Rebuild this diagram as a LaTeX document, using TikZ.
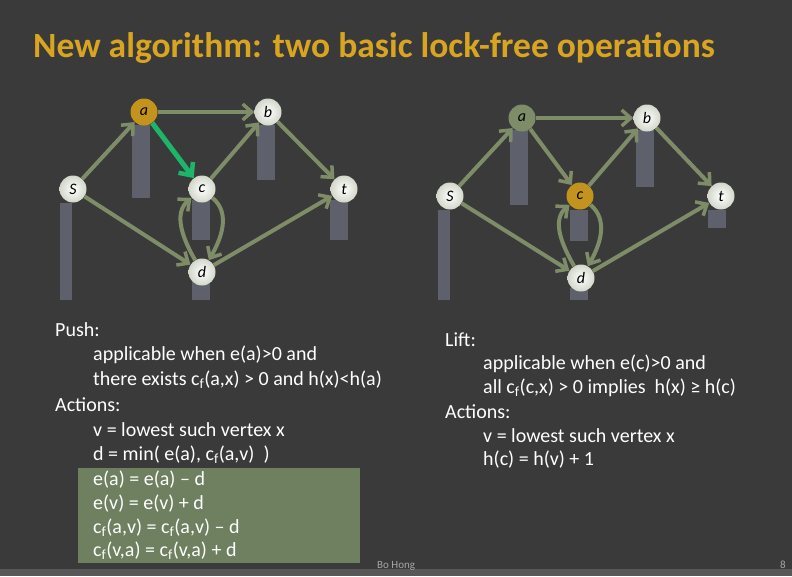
\documentclass[tikz,border=0pt]{standalone}
\usepackage{fontspec}
\setmainfont{Carlito}
\usetikzlibrary{arrows.meta}
\definecolor{bg}{HTML}{3A3A3A}
\definecolor{edge}{HTML}{7F8C68}
\definecolor{bar}{HTML}{5E616B}
\definecolor{gold}{HTML}{D9A520}
\definecolor{hl}{HTML}{6F8060}
\definecolor{pushg}{HTML}{1DB56A}
\tikzset{x=1pt,y=-1pt,
 vert/.style={circle,minimum size=27pt,inner sep=0pt,inner color=white,outer color=edge!35!white,font=\itshape\fontsize{16}{16}\selectfont,text=black},
 active/.style={circle,minimum size=27pt,inner sep=0pt,fill=gold!90!black,font=\itshape\fontsize{16}{16}\selectfont,text=black},
 plain/.style={circle,minimum size=27pt,inner sep=0pt,fill=edge,font=\itshape\fontsize{16}{16}\selectfont,text=black},
 e/.style={draw=edge,line width=4pt,-{Straight Barb[length=9pt,width=16pt,line width=3.5pt]}},
 hbar/.style={fill=bar,draw=none},
 txt/.style={anchor=west,text=white,font=\fontsize{20}{20}\selectfont,inner sep=0pt}}
\begin{document}
\begin{tikzpicture}
\fill[bg] (0,0) rectangle (792,576);
\fill[bg!85!white] (0,569) rectangle (792,576);
\node[anchor=base west,inner sep=0pt,text=gold,font=\bfseries\fontsize{35.5}{35.5}\selectfont] (title) at (33,57) {New algorithm: two basic lock-free operations};
% left graph bars
\fill[hbar] (132,125) rectangle (150,198);
\fill[hbar] (257,125) rectangle (275,180);
\fill[hbar] (192,200) rectangle (210,240);
\fill[hbar] (330,200) rectangle (348,240);
\fill[hbar] (60,203) rectangle (72,300);
\fill[hbar] (192,282) rectangle (210,300);
\node[vert] (S) at (73,189) {S};
\node[active] (a) at (144,112) {a};
\node[vert] (b) at (268,112) {b};
\node[vert] (c) at (202,189) {c};
\node[vert] (t) at (344,189) {t};
\node[vert] (d) at (202,272) {d};
\draw[e] (S) -- (a);
\draw[e] (a) -- (b);
\draw[e] (c) -- (b);
\draw[e] (b) -- (t);
\draw[e] (S) -- (d);
\draw[e] (d) -- (t);
\draw[e] (d) to[out=120,in=-140] (c);
\draw[e] (c) to[out=-40,in=60] (d);
\draw[draw=pushg,line width=5pt,-{Straight Barb[length=10pt,width=18pt,line width=4.5pt]}] (a) -- (c);
% right graph bars
\fill[hbar] (510,130) rectangle (528,205);
\fill[hbar] (636,130) rectangle (654,187);
\fill[hbar] (570,210) rectangle (588,241);
\fill[hbar] (708,210) rectangle (726,228);
\fill[hbar] (438,210) rectangle (450,300);
\fill[hbar] (570,288) rectangle (588,300);
\node[vert] (S2) at (450,196) {S};
\node[plain] (a2) at (522,118) {a};
\node[vert] (b2) at (647,118) {b};
\node[active] (c2) at (580,196) {c};
\node[vert] (t2) at (721,196) {t};
\node[vert] (d2) at (581,278) {d};
\draw[e] (S2) -- (a2);
\draw[e] (a2) -- (b2);
\draw[e] (a2) -- (c2);
\draw[e] (c2) -- (b2);
\draw[e] (b2) -- (t2);
\draw[e] (S2) -- (d2);
\draw[e] (d2) -- (t2);
\draw[e] (d2) to[out=120,in=-140] (c2);
\draw[e] (c2) to[out=-40,in=60] (d2);
% push text
\fill[hl] (78,468) rectangle (360,563);
\node[txt] (p1) at (55,330) {Push:};
\node[txt] (p2) at (93,355) {applicable when e(a)>0 and};
\node[txt] (p3) at (93,380) {there exists c\textsubscript{f}(a,x) > 0 and h(x)<h(a)};
\node[txt] (p4) at (55,405) {Actions:};
\node[txt] (p5) at (93,430) {v = lowest such vertex x};
\node[txt] (p6) at (93,455) {d = min( e(a), c\textsubscript{f}(a,v)~~)};
\node[txt] (p7) at (93,480) {e(a) = e(a) – d};
\node[txt] (p8) at (93,504) {e(v) = e(v) + d};
\node[txt] (p9) at (93,528) {c\textsubscript{f}(a,v) = c\textsubscript{f}(a,v) – d};
\node[txt] (p10) at (93,551) {c\textsubscript{f}(v,a) = c\textsubscript{f}(v,a) + d};
% lift text
\node[txt] (l1) at (445,340) {Lift:};
\node[txt] (l2) at (483,364) {applicable when e(c)>0 and};
\node[txt] (l3) at (483,388) {all c\textsubscript{f}(c,x) > 0 implies~ h(x) ≥ h(c)};
\node[txt] (l4) at (445,412) {Actions:};
\node[txt] (l5) at (483,436) {v = lowest such vertex x};
\node[txt] (l6) at (483,460) {h(c) = h(v) + 1};
\node[anchor=base west,inner sep=0pt,text=gray!70,font=\fontsize{11}{11}\selectfont] (auth) at (377,568) {Bo Hong};
\node[anchor=base east,inner sep=0pt,text=gray!70,font=\fontsize{11}{11}\selectfont] (pg) at (786,568) {8};
\end{tikzpicture}
\end{document}
